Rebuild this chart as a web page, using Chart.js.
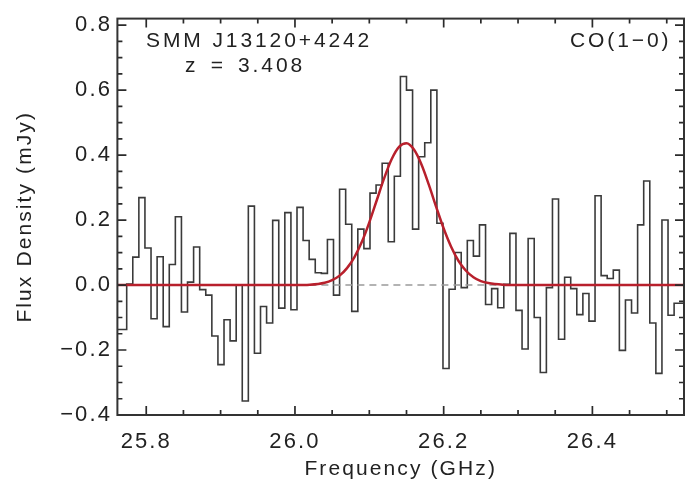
<!DOCTYPE html>
<html><head><meta charset="utf-8">
<script src="https://cdn.jsdelivr.net/npm/chart.js@4"></script>
<style>html,body{margin:0;padding:0;background:#fff}canvas{display:block}</style>
</head><body>
<canvas id="c" width="687" height="487" style="width:687px;height:487px"></canvas>
<script>
// ---- data ----
const xRange = [25.7612, 26.5232];          // GHz
const yRange = [-0.40, 0.82];               // mJy
const xTickLabels = [25.8, 26.0, 26.2, 26.4];
const yTickLabels = [-0.4, -0.2, 0.0, 0.2, 0.4, 0.6, 0.8];
const tickMinorStep = 0.05;

// channel grid (regular spectrometer channels)
const chanStartGHz = 25.7737;   // left edge of first full channel
const chanWidthGHz = 0.00818;

// flux density per channel (mJy); first value is the clipped channel at the left edge
const fluxDensity = [
 -0.137, 0.003, 0.086, 0.269, 0.114, -0.104, 0.087, -0.128, 0.063, 0.210,
 -0.083, 0.009, 0.117, -0.014, -0.031, -0.157, -0.245, -0.107, -0.172, 0.000,
 -0.357, 0.243, -0.210, -0.066, -0.117, 0.199, -0.071, 0.223, -0.076, 0.239,
 0.137, 0.079, 0.038, 0.036, 0.140, -0.031, 0.295, 0.187, -0.081, 0.172,
 0.112, 0.283, 0.308, 0.375, 0.133, 0.335, 0.642, 0.600, 0.172, 0.395,
 0.438, 0.600, 0.190, -0.257, -0.013, 0.100, -0.008, 0.137, 0.089, 0.185,
 -0.060, -0.011, -0.070, 0.002, 0.159, -0.078, -0.197, 0.143, -0.100, -0.269,
 -0.008, 0.265, -0.167, 0.024, -0.011, -0.091, -0.026, -0.111, 0.275, 0.029,
 0.020, 0.046, -0.201, -0.046, -0.086, 0.185, 0.320, -0.117, -0.272, 0.200,
 -0.093, -0.056, -0.056
];

// Gaussian fit curve
const fitFreq = [25.7612, 25.95, 26.00, 26.02, 26.04, 26.05, 26.06, 26.07, 26.08, 26.09,
 26.10, 26.11, 26.12, 26.13, 26.14, 26.15, 26.16, 26.17, 26.18, 26.19, 26.20, 26.21,
 26.22, 26.23, 26.24, 26.25, 26.26, 26.28, 26.30, 26.35, 26.5232];
const fitFlux = [0, 0, 0.000, 0.001, 0.007, 0.015, 0.029, 0.052, 0.086, 0.133,
 0.193, 0.261, 0.329, 0.387, 0.425, 0.436, 0.417, 0.372, 0.309, 0.240, 0.174, 0.118,
 0.074, 0.044, 0.024, 0.012, 0.006, 0.001, 0.000, 0, 0];

const labelSource = 'SMM J13120+4242';
const labelRedshift = 'z = 3.408';
const labelLine = 'CO(1\u22120)';
const xTitle = 'Frequency (GHz)';
const yTitle = 'Flux Density (mJy)';

// ---- build datasets ----
const histPts = [{x: xRange[0], y: fluxDensity[0]}];
for (let k = 1; k < fluxDensity.length; k++) {
  histPts.push({x: chanStartGHz + (k - 1) * chanWidthGHz, y: fluxDensity[k]});
}
histPts.push({x: xRange[1], y: fluxDensity[fluxDensity.length - 1]});
const fitPts = fitFreq.map((f, i) => ({x: f, y: fitFlux[i]}));
const zeroPts = [{x: xRange[0], y: 0}, {x: xRange[1], y: 0}];

const FONT = '"Liberation Sans", Arial, Helvetica, sans-serif';
const TXT = '#222';

function drawTickMarks(chart) {
  const ctx = chart.ctx, a = chart.chartArea;
  const xs = chart.scales.x, ys = chart.scales.y;
  const major = 9, minor = 5;
  const isMajor = (v, list) => list.some(t => Math.abs(t - v) < 1e-6);
  ctx.save();
  ctx.strokeStyle = '#2a2a2a';
  ctx.lineWidth = 1.7;
  ctx.beginPath();
  for (let v = Math.ceil(xRange[0] / tickMinorStep) * tickMinorStep; v <= xRange[1] + 1e-9; v += tickMinorStep) {
    const vv = Math.round(v * 100) / 100;
    const px = xs.getPixelForValue(vv);
    const len = isMajor(vv, xTickLabels) ? major : minor;
    ctx.moveTo(px, a.bottom); ctx.lineTo(px, a.bottom - len);
    ctx.moveTo(px, a.top); ctx.lineTo(px, a.top + len);
  }
  for (let v = Math.ceil(yRange[0] / tickMinorStep) * tickMinorStep; v <= yRange[1] + 1e-9; v += tickMinorStep) {
    const vv = Math.round(v * 100) / 100;
    const py = ys.getPixelForValue(vv);
    const len = isMajor(vv, yTickLabels) ? major : minor;
    ctx.moveTo(a.left, py); ctx.lineTo(a.left + len, py);
    ctx.moveTo(a.right, py); ctx.lineTo(a.right - len, py);
  }
  ctx.stroke();
  ctx.restore();
}

const decor = {
  id: 'decor',
  beforeDraw(chart) {
    const ctx = chart.ctx;
    ctx.save();
    ctx.fillStyle = '#fff';
    ctx.fillRect(0, 0, chart.width, chart.height);
    ctx.restore();
    ctx.letterSpacing = '2.1px';
  },
  afterDraw(chart) {
    const ctx = chart.ctx, a = chart.chartArea;
    drawTickMarks(chart);
    ctx.save();
    ctx.lineWidth = 2;
    ctx.strokeStyle = '#333';
    ctx.strokeRect(a.left, a.top, a.right - a.left, a.bottom - a.top);
    ctx.fillStyle = TXT;
    ctx.font = '21px ' + FONT;
    ctx.textBaseline = 'alphabetic';
    ctx.letterSpacing = '2.9px';
    ctx.textAlign = 'left';
    ctx.fillText(labelSource, 146, 46.7);
    ctx.wordSpacing = '3.5px';
    ctx.fillText(labelRedshift, 185, 71.5);
    ctx.wordSpacing = '0px';
    ctx.fillText(labelLine, 570, 46.7);
    ctx.restore();
  }
};

new Chart(document.getElementById('c'), {
  type: 'line',
  data: {
    datasets: [
      {data: fitPts, borderColor: '#b8202c', borderWidth: 2.5, pointRadius: 0,
       cubicInterpolationMode: 'monotone', fill: false},
      {data: zeroPts, borderColor: '#9a9a9a', borderWidth: 1.6, borderDash: [7, 5],
       pointRadius: 0, fill: false},
      {data: histPts, borderColor: '#3a3a3a', borderWidth: 1.6, pointRadius: 0,
       stepped: 'before', fill: false}
    ]
  },
  options: {
    responsive: false,
    devicePixelRatio: 1,
    animation: false,
    events: [],
    layout: {padding: {left: 0, right: 3, top: 10, bottom: 0}},
    plugins: {legend: {display: false}, tooltip: {enabled: false}, title: {display: false}},
    scales: {
      x: {
        type: 'linear', position: 'bottom',
        min: xRange[0], max: xRange[1],
        grid: {display: false, drawTicks: false, tickLength: 0},
        border: {display: false},
        afterFit: s => { s.height = 72; },
        ticks: {
          stepSize: 0.2, includeBounds: false, autoSkip: false, maxRotation: 0,
          padding: 13.5, color: TXT, font: {family: FONT, size: 22},
          callback: v => xTickLabels.some(t => Math.abs(t - v) < 1e-6) ? v.toFixed(1) : ''
        },
        title: {display: true, text: xTitle, color: TXT, font: {family: FONT, size: 21},
                padding: {top: 0, bottom: 5.2}}
      },
      y: {
        type: 'linear', position: 'left',
        min: yRange[0], max: yRange[1],
        grid: {display: false, drawTicks: false, tickLength: 0},
        border: {display: false},
        afterFit: s => { s.width = 117.4; },
        ticks: {
          stepSize: 0.2, includeBounds: false, autoSkip: false,
          padding: 5.4, color: TXT, font: {family: FONT, size: 22},
          callback: v => (v < -1e-9 ? '\u2212' : '') + Math.abs(v).toFixed(1)
        },
        title: {display: true, text: yTitle, color: TXT, font: {family: FONT, size: 21},
                padding: {top: 12.4, bottom: 0}}
      }
    }
  },
  plugins: [decor]
});
</script>
</body></html>
